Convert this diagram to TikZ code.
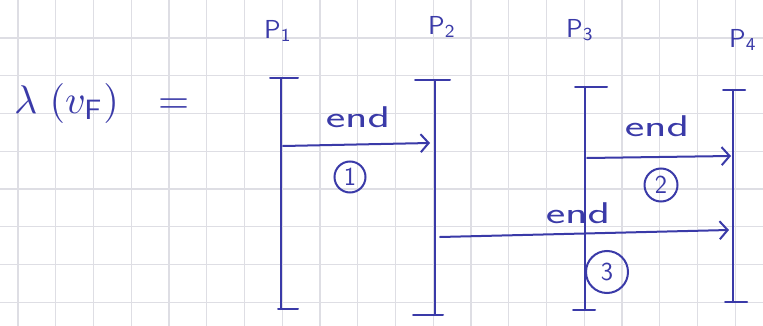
\documentclass[tikz,border=0pt]{standalone}
\usepackage{graphicx}
\usetikzlibrary{arrows.meta}
\definecolor{ink}{RGB}{58,58,168}
\definecolor{gridc}{RGB}{222,222,228}
\tikzset{
  pen/.style={draw=ink, line width=2pt, line cap=round},
  gridline/.style={draw=gridc, line width=1.3pt},
  msg/.style={pen, -{Straight Barb[length=8pt,width=18pt,line width=2pt]}},
  endlabel/.style={text=ink, inner sep=0pt, font=\sffamily\fontsize{30}{32}\selectfont},
  plabel/.style={text=ink, inner sep=0pt},
  numcirc/.style={draw=ink, line width=2pt, circle, text=ink, inner sep=0pt, font=\sffamily\fontsize{26}{28}\selectfont}
}
\begin{document}
\begin{tikzpicture}[x=1pt,y=-1pt]
\useasboundingbox (0,0) rectangle (763,326);
\fill[white] (0,0) rectangle (763,326);
% grid paper
\foreach \i in {0,...,19} \draw[gridline] ({18+37.75*\i},0) -- ({18+37.75*\i},326);
\foreach \j in {0,...,7} \draw[gridline] (0,{38+37.75*\j}) -- (763,{38+37.75*\j});

% formula
\node[text=ink, anchor=west, inner sep=0pt] (lam) at (14,104)
  {\scalebox{4}{$\lambda\hspace{3pt}(v_{\mathsf{F}})\hspace{7pt}=$}};

% process labels
\node[plabel] (P1) at (278,31) {\scalebox{2.6}{$\mathsf{P}_{\mathsf{1}}$}};
\node[plabel] (P2) at (442,27) {\scalebox{2.6}{$\mathsf{P}_{\mathsf{2}}$}};
\node[plabel] (P3) at (580,30) {\scalebox{2.6}{$\mathsf{P}_{\mathsf{3}}$}};
\node[plabel] (P4) at (743,40) {\scalebox{2.6}{$\mathsf{P}_{\mathsf{4}}$}};

% process lines
\coordinate (p1t) at (281,78);  \coordinate (p1b) at (281,309);
\coordinate (p2t) at (435,80);  \coordinate (p2b) at (435,315);
\coordinate (p3t) at (585,87);  \coordinate (p3b) at (585,310);
\coordinate (p4t) at (733,90);  \coordinate (p4b) at (733,302);
\draw[pen] (p1t) -- (p1b);
\draw[pen] ([xshift=-11pt]p1t) -- ([xshift=17pt]p1t);
\draw[pen] ([xshift=-3pt]p1b) -- ([xshift=17pt]p1b);
\draw[pen] (p2t) -- (p2b);
\draw[pen] ([xshift=-20pt]p2t) -- ([xshift=15pt]p2t);
\draw[pen] ([xshift=-22pt]p2b) -- ([xshift=8pt]p2b);
\draw[pen] (p3t) -- (p3b);
\draw[pen] ([xshift=-10pt]p3t) -- ([xshift=22pt]p3t);
\draw[pen] ([xshift=-12pt]p3b) -- ([xshift=10pt]p3b);
\draw[pen] (p4t) -- (p4b);
\draw[pen] ([xshift=-10pt]p4t) -- ([xshift=12pt]p4t);
\draw[pen] ([xshift=-8pt]p4b) -- ([xshift=14pt]p4b);

% messages
\coordinate (m1s) at (283,146); \coordinate (m1e) at (430,143);
\coordinate (m2s) at (587,158); \coordinate (m2e) at (731,156);
\coordinate (m3s) at (440,237); \coordinate (m3e) at (729,230);
\draw[msg] (m1s) -- (m1e);
\draw[msg] (m2s) -- (m2e);
\draw[msg] (m3s) -- (m3e);

\node[endlabel] (e1) at (358,117) {\scalebox{1.55}[1]{end}};
\node[endlabel] (e2) at (657,126) {\scalebox{1.55}[1]{end}};
\node[endlabel] (e3) at (578,213) {\scalebox{1.55}[1]{end}};

\node[numcirc, minimum size=31pt] (c1) at (350,177) {1};
\node[numcirc, minimum size=33pt] (c2) at (661,185) {2};
\node[numcirc, minimum size=42pt] (c3) at (607,272) {3};
\end{tikzpicture}
\end{document}
